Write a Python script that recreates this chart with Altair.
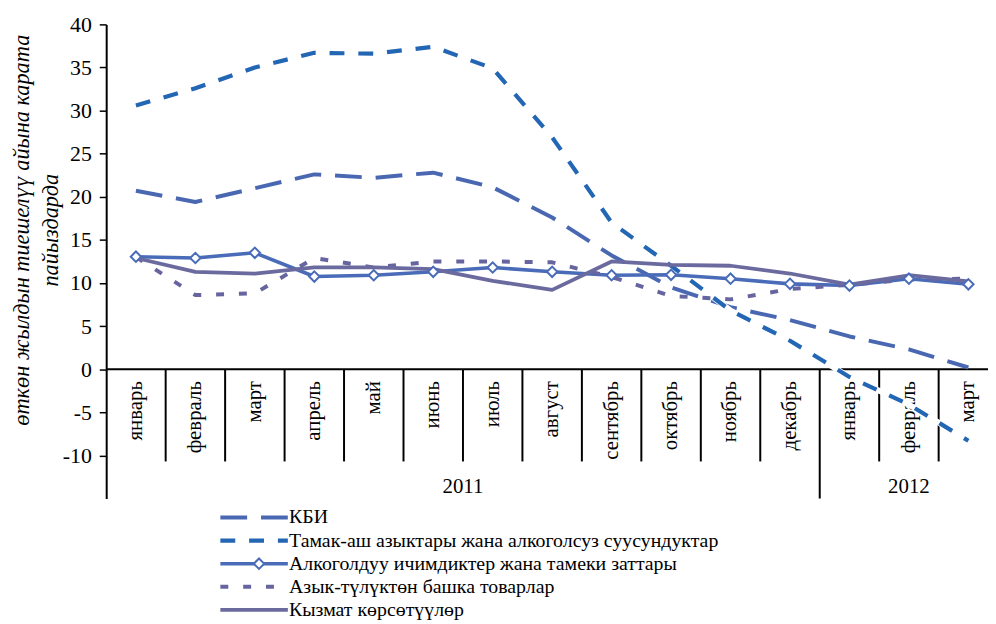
import altair as alt
import pandas as pd

# ---------------- data ----------------
months = ["январь", "февраль", "март", "апрель", "май", "июнь", "июль", "август",
          "сентябрь", "октябрь", "ноябрь", "декабрь", "январь", "февраль", "март"]
years = ["2011", "2012"]
year_counts = [12, 3]

series_names = [
    "КБИ",
    "Тамак-аш азыктары жана алкоголсуз суусундуктар",
    "Алкоголдуу ичимдиктер жана тамеки заттары",
    "Азык-түлүктөн башка товарлар",
    "Кызмат көрсөтүүлөр",
]
kbi = [20.7, 19.4, 21.0, 22.6, 22.2, 22.8, 21.1, 17.6, 13.2, 9.5, 7.2, 5.7, 3.8, 2.3, 0.2]
food = [30.6, 32.6, 35.0, 36.7, 36.6, 37.4, 34.9, 26.9, 17.0, 12.0, 6.8, 3.3, -0.9, -4.1, -8.3]
alcohol = [13.05, 12.9, 13.5, 10.75, 10.9, 11.3, 11.8, 11.3, 10.9, 10.95, 10.5, 9.9, 9.7, 10.5, 9.85]
nonfood = [13.0, 8.6, 8.8, 12.9, 11.8, 12.5, 12.5, 12.4, 10.7, 8.5, 8.1, 9.3, 9.8, 10.4, 10.5]
services = [12.9, 11.3, 11.1, 11.8, 11.8, 11.6, 10.25, 9.2, 12.5, 12.1, 12.0, 11.1, 9.8, 10.9, 10.2]
y_ticks = [-10, -5, 0, 5, 10, 15, 20, 25, 30, 35, 40]
y_title = ["өткөн жылдын тиешелүү айына карата", "пайыздарда"]

# ---------------- styles ----------------
colors = ["#4A68B2", "#2366B4", "#4A6CB8", "#6665A0", "#6B6A9E"]
dashes = [[27, 14], [15, 14], None, [8, 15], None]
widths = [4, 4.2, 3.6, 4, 3.8]
FONT = "Liberation Serif, Times New Roman, serif"

# ---------------- tables ----------------
all_vals = [kbi, food, alcohol, nonfood, services]
rows = []
for s, vals in zip(series_names, all_vals):
    for i, v in enumerate(vals):
        rows.append({"series": s, "i": i, "v": v})
df = pd.DataFrame(rows)

n = len(months)
x_scale = alt.Scale(domain=[-0.5, n - 0.67], nice=False, zero=False)
y_scale = alt.Scale(domain=[-15, 40], nice=False, zero=False)

y_axis = alt.Axis(
    values=y_ticks, grid=False, labelExpr="datum.value + ''",
    domainColor="black", domainWidth=2, tickColor="black", tickWidth=1.5, tickSize=7,
    labelFont=FONT, labelFontSize=22, labelColor="black", labelPadding=8,
    title=y_title, titleFont=FONT, titleFontSize=22.5, titleFontStyle="italic",
    titleFontWeight="normal", titleColor="black", titleAngle=270,
    titleAlign="center", titleBaseline="middle", titleLineHeight=29,
    titleX=-85, titleY=207,
)

X = lambda f: alt.X(f, type="quantitative", scale=x_scale, axis=None)
Y = lambda f: alt.Y(f, type="quantitative", scale=y_scale, axis=y_axis)

layers = []

# separators of the category axis
sep = pd.DataFrame({
    "b": [i + 0.5 for i in range(n - 1)],
    "top": [0] * (n - 1),
})
year_break = year_counts[0] - 0.5
sep["bottom"] = [-15 if b == year_break else -10.7 for b in sep["b"]]
layers.append(alt.Chart(sep).mark_rule(color="black", strokeWidth=2).encode(
    x=X("b"), y=Y("top"), y2="bottom"))

# zero line (category axis)
layers.append(alt.Chart(pd.DataFrame({"v": [0]})).mark_rule(color="black", strokeWidth=2).encode(
    y=Y("v")))

# month labels
mdf = pd.DataFrame({"i": list(range(n)), "label": months, "v": [-1.38] * n})
layers.append(alt.Chart(mdf).mark_text(angle=270, align="right", baseline="middle",
                                       font=FONT, fontSize=21, color="black").encode(
    x=X("i"), y=Y("v"), text="label:N"))

# year labels
starts = [0, year_counts[0]]
ydf = pd.DataFrame({
    "c": [s + (c - 1) / 2 for s, c in zip(starts, year_counts)],
    "label": years, "v": [-13.7, -13.7]})
layers.append(alt.Chart(ydf).mark_text(align="center", baseline="middle",
                                       font=FONT, fontSize=21, color="black").encode(
    x=X("c"), y=Y("v"), text="label:N"))

# series lines
for k, (s, c, d, w) in enumerate(zip(series_names, colors, dashes, widths)):
    base = alt.Chart(df).transform_filter(alt.datum.series == s)
    if k == 1:
        layers.append(base.mark_line(color="white", strokeWidth=6).encode(x=X("i"), y=Y("v")))
    kw = dict(color=c, strokeWidth=w, strokeJoin="round")
    if d:
        kw["strokeDash"] = d
    layers.append(base.mark_line(**kw).encode(x=X("i"), y=Y("v")))

# diamond markers
layers.append(alt.Chart(df).transform_filter(alt.datum.series == series_names[2]).mark_point(
    shape="diamond", size=110, filled=True, fill="white", stroke=colors[2], strokeWidth=2,
    opacity=1).encode(x=X("i"), y=Y("v")))

# ---------------- legend (layout in data units of the same scales) ----------------
leg_top, leg_step = -17.2, 2.68
leg_x0, leg_x1, leg_xt, leg_xm = 1.42, 2.555, 2.575, 2.07
ldf = pd.DataFrame({
    "series": series_names,
    "v": [leg_top - k * leg_step for k in range(len(series_names))],
    "x0": [leg_x0] * 5, "x1": [leg_x1] * 5, "xt": [leg_xt] * 5, "xm": [leg_xm] * 5,
})
for k, (s, c, d, w) in enumerate(zip(series_names, colors, dashes, widths)):
    base = alt.Chart(ldf).transform_filter(alt.datum.series == s)
    kw = dict(color=c, strokeWidth=w)
    if d:
        kw["strokeDash"] = d
    layers.append(base.mark_rule(**kw).encode(x=X("x0"), x2="x1", y=Y("v")))
layers.append(alt.Chart(ldf).transform_filter(alt.datum.series == series_names[2]).mark_point(
    shape="diamond", size=110, filled=True, fill="white", stroke=colors[2], strokeWidth=2,
    opacity=1).encode(x=X("xm"), y=Y("v")))
layers.append(alt.Chart(ldf).mark_text(align="left", baseline="middle", font=FONT,
                                       fontSize=20, color="black").encode(
    x=X("xt"), y=Y("v"), text="series:N"))

chart = alt.layer(*layers).properties(
    width=889, height=478,
    autosize=alt.AutoSizeParams(type="none"),
    padding={"left": 99, "top": 14, "right": 0, "bottom": 124},
    background="white",
).configure_view(stroke=None)

chart.save("out.html", embed_options={"renderer": "svg", "actions": False})
